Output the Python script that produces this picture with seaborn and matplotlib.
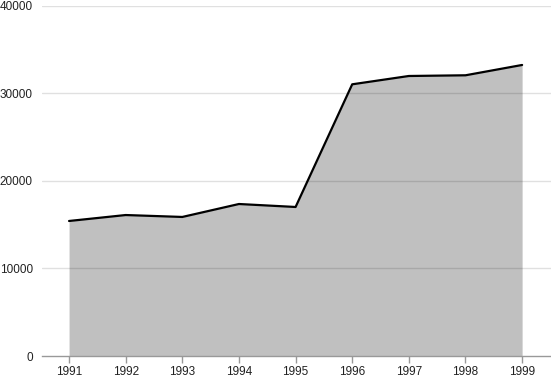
import matplotlib
matplotlib.use("Agg")
import matplotlib.pyplot as plt
import seaborn as sns
import pandas as pd

years = ["1991", "1992", "1993", "1994", "1995", "1996", "1997", "1998", "1999"]
values = [15430, 16110, 15890, 17370, 17030, 31050, 32000, 32080, 33260]
yticks = [0, 10000, 20000, 30000, 40000]

sns.set_theme(style="white")
plt.rcParams['font.family'] = ['Liberation Sans', 'DejaVu Sans']

df = pd.DataFrame({"year": years, "value": values})
df["pos"] = range(len(years))

fig = plt.figure(figsize=(5.51, 3.77), dpi=100)
ax = fig.add_axes([0.076, 0.0557, 0.924, 0.9284])

ax.fill_between(df["pos"], 0, df["value"], color="#c0c0c0", linewidth=0, zorder=1)
sns.lineplot(data=df, x="pos", y="value", color="black", linewidth=1.6, ax=ax, zorder=3)

ax.set_xlim(-0.48, 8.51)
ax.set_ylim(0, 40000)
ax.set_xticks(df["pos"])
ax.set_xticklabels(years)
ax.set_yticks(yticks)
ax.set_yticklabels([str(v) for v in yticks])
ax.set_xlabel("")
ax.set_ylabel("")

for v in yticks[1:]:
    ax.axhline(v, color="black", alpha=0.12, linewidth=1, zorder=2)

for s in ["top", "right", "left"]:
    ax.spines[s].set_visible(False)
ax.spines["bottom"].set_color("#999999")
ax.spines["bottom"].set_linewidth(1)
ax.spines["bottom"].set_zorder(4)

ax.tick_params(axis="x", bottom=True, length=5, width=1, color="#999999", labelsize=8.5, pad=2, labelcolor="#222222")
ax.tick_params(axis="y", left=False, length=0, labelsize=8.5, pad=6.5, labelcolor="#222222")

fig.savefig("out.png", dpi=100)
